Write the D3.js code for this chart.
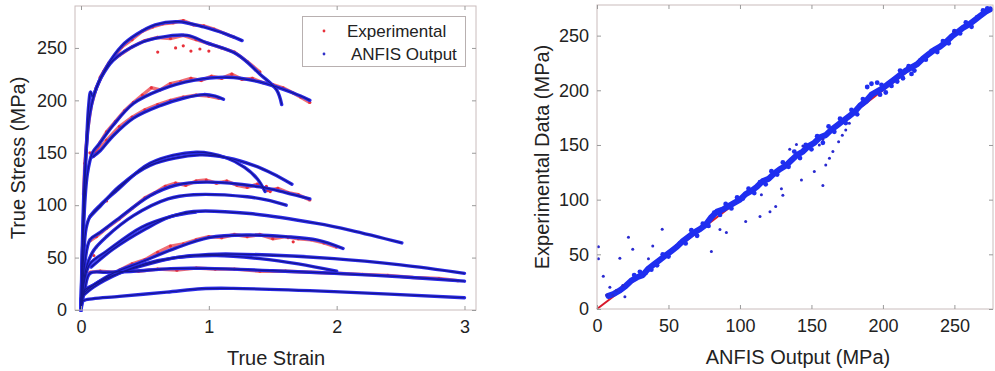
<!DOCTYPE html>
<html>
<head>
<meta charset="utf-8">
<script src="https://cdn.jsdelivr.net/npm/d3@7"></script>
<style>
  body { margin: 0; background: #fff; }
  svg { display: block; font-family: 'Liberation Sans', Arial, sans-serif; }
  .tick text { font-size: 18px; fill: #222; }
  .axis-title { font-size: 20px; fill: #222; }
</style>
</head>
<body>
<svg id="chart" width="995" height="371"></svg>
<script>
// ---- left panel: true stress vs true strain ----
const strainTicks = [0, 1, 2, 3];
const stressTicks = [0, 50, 100, 150, 200, 250];

// ANFIS output curves [strain, stress]
const anfisA = [[0,0],[0.01,60],[0.025,120],[0.045,160],[0.07,188],[0.12,212],[0.2,232],[0.32,252],[0.436,263],[0.58,272],[0.76,275],[0.96,270],[1.14,263],[1.26,257]];
const anfisB = [[0,0],[0.02,90],[0.04,150],[0.06,195],[0.075,208],[0.09,204],[0.15,220],[0.25,238],[0.45,254],[0.62,260],[0.83,262],[0.98,255],[1.22,244],[1.4,225],[1.53,210],[1.57,196]];
const anfisC = [[0,0],[0.02,80],[0.05,130],[0.09,150],[0.14,158],[0.25,176],[0.41,197],[0.62,210],[0.88,219],[1.14,222],[1.4,217.5],[1.66,207],[1.79,200]];
const anfisD = [[0.09,146],[0.15,152],[0.25,166],[0.41,183],[0.62,195],[0.8,202],[0.96,205.5],[1.05,204],[1.115,201]];
const anfisE = [[0,0],[0.02,50],[0.04,78],[0.07,89],[0.15,100],[0.28,114],[0.54,140],[0.9,150.5],[1.14,145],[1.28,136],[1.38,125],[1.44,113]];
const anfisF = [[0.07,89],[0.15,99],[0.3,118],[0.54,138],[0.93,148],[1.15,145],[1.35,138],[1.5,130],[1.65,120]];
const anfisG = [[0,0],[0.03,45],[0.07,67],[0.15,74],[0.28,86],[0.54,109],[0.74,119],[0.98,122],[1.4,117.4],[1.6,112],[1.79,106]];
const anfisH = [[0,0],[0.04,40],[0.1,57],[0.2,70],[0.41,90],[0.68,106],[0.88,110],[1.3,108],[1.45,105],[1.605,100]];
const anfisI = [[0,0],[0.03,30],[0.07,44],[0.2,56],[0.475,79],[0.74,90.5],[0.88,94],[1.32,92],[1.845,82.6],[2.11,76],[2.51,64]];
const anfisI2 = [[0.08,41],[0.25,58],[0.5,77],[0.7,89],[0.9,93.5]];
const anfisJ = [[0,0],[0.02,18],[0.1,24],[0.25,35],[0.475,46],[0.74,59],[1.0,69],[1.3,71.5],[1.6,70],[1.85,66.7],[2.05,58.7]];
const anfisK = [[0,0],[0.01,14],[0.1,24],[0.25,33],[0.475,42],[0.74,50],[1.0,53],[1.2,53.3],[1.98,49],[2.5,43],[3.0,35]];
const anfisL = [[0.01,13],[0.1,22],[0.3,35],[0.5,44],[0.74,50],[1.06,52],[1.4,49],[1.7,44],[2.0,37]];
const anfisM = [[0,0],[0.03,20],[0.07,35],[0.2,36],[0.41,37],[0.7,39.5],[0.98,39.7],[1.5,37.5],[1.98,35],[2.5,31.7],[3.0,27.5]];
const anfisN = [[0,0],[0.01,8],[0.03,9.5],[0.3,13],[0.67,17],[0.945,20.3],[1.19,20.6],[1.98,17.5],[3.0,11.7]];

// experimental curves [strain, stress]
const expA = [[0.02,110],[0.03,140],[0.05,170],[0.08,195],[0.12,212],[0.18,228],[0.25,240],[0.32,251],[0.4,258],[0.48,266],[0.56,270],[0.64,273],[0.72,274],[0.8,276],[0.88,272],[0.96,271],[1.04,268],[1.12,264],[1.2,260]];
const expB = [[0.15,222],[0.22,236],[0.3,243],[0.4,251],[0.5,257],[0.6,260],[0.7,259],[0.8,262],[0.9,258],[1.0,254],[1.1,250],[1.2,246],[1.3,237],[1.4,227]];
const expC = [[0.07,150],[0.1,147],[0.15,160],[0.2,170],[0.27,180],[0.34,190],[0.41,198],[0.48,205],[0.55,212],[0.62,210],[0.7,216],[0.78,218],[0.86,221],[0.94,219],[1.02,223],[1.1,221],[1.18,225],[1.26,220],[1.34,221],[1.42,217],[1.5,215],[1.58,212],[1.66,207],[1.72,203],[1.79,198]];
const expD = [[0.12,150],[0.2,162],[0.3,175],[0.4,184],[0.5,191],[0.6,196],[0.7,200],[0.8,203],[0.9,205],[1.0,204],[1.08,202]];
const expG = [[0.07,66],[0.12,70],[0.2,78],[0.3,87],[0.4,97],[0.5,107],[0.58,112],[0.66,118],[0.74,121],[0.82,119],[0.9,123],[0.98,124],[1.06,121],[1.14,123],[1.22,119],[1.3,117],[1.38,120],[1.46,114],[1.54,116],[1.62,112],[1.7,110],[1.79,105]];
const expJ = [[0.3,38],[0.4,44],[0.5,48],[0.6,55],[0.7,61],[0.8,63],[0.9,67],[1.0,70],[1.1,69],[1.2,72],[1.3,70],[1.4,72],[1.5,68],[1.6,70],[1.7,68],[1.8,67],[1.9,64],[2.0,60]];
const expM = [[0.07,36],[0.15,37],[0.25,36],[0.35,38],[0.45,37],[0.6,39],[0.75,38],[0.9,40],[1.05,39],[1.2,39],[1.4,37],[1.6,37],[1.8,36],[2.0,35],[2.2,34],[2.4,33],[2.6,31],[2.8,30],[2.95,28]];
const expStray = [[0.74,250],[0.8,252],[0.86,247],[0.93,249],[1.0,247],[0.6,246],[1.45,118],[1.48,113],[1.62,69],[1.66,65],[0.2,104],[0.12,60],[0.1,52]];

// ---- right panel: experimental vs ANFIS ----
const anfisTicks = [0, 50, 100, 150, 200, 250];
const fitLine = [[0, 0], [275, 275]];
// [anfis, experimental] pairs of the dense band
const bandPairs = [[8,12],[12,14],[16,17],[20,21],[24,26],[28,29],[32,31],[36,37],[40,41],[44,45],[48,49],[52,53],[56,57],[60,62],[64,66],[68,70],[72,73],[76,77],[80,84],[84,89],[88,91],[92,94],[96,97],[100,100],[104,105],[108,108],[112,112],[116,117],[120,119],[124,124],[128,128],[132,131],[136,136],[140,141],[144,144],[148,149],[152,152],[156,157],[160,159],[164,164],[168,168],[172,172],[176,176],[180,180],[184,186],[188,190],[192,196],[196,199],[200,202],[204,206],[208,210],[212,214],[216,218],[220,221],[224,224],[228,229],[232,233],[236,237],[240,240],[244,244],[248,249],[252,253],[256,257],[260,260],[264,264],[268,268],[272,272],[275,274]];
const bandExtra = [[26,31],[30,34],[34,33],[38,36],[42,40],[46,50],[50,48],[58,60],[62,60],[66,72],[70,67],[74,78],[78,76],[82,88],[86,86],[90,96],[94,92],[98,102],[102,101],[106,110],[110,106],[114,116],[118,114],[122,126],[126,123],[130,134],[134,130],[138,144],[142,138],[146,150],[150,146],[154,158],[158,152],[162,167],[166,162],[170,174],[174,170],[178,182],[182,178],[186,192],[189,203],[192,206],[196,207],[199,205],[198,196],[202,198],[206,204],[210,208],[214,211],[212,218],[218,222],[222,218],[220,215],[226,227],[230,228],[234,236],[238,235],[242,245],[246,243],[250,254],[254,252],[258,262],[262,258],[266,267],[270,273],[273,275]];
const outlierPairs = [[1,57],[1,46],[4.4,30],[22,65.6],[25,54.6],[16,46.4],[39,57.6],[45.6,73],[36,46],[6.7,12.8],[11,12.8],[9,20],[13.5,17],[18,21.5],[19.5,11.3],[80,52.5],[90.5,70],[86,72.6],[104,80],[114,84.5],[121,89],[125,93.7],[115,104.4],[129,110],[130,104],[143,118],[152,125.7],[158,113],[160,131.7],[162.6,137.9],[165,144],[169,153],[171.6,159],[174,163.6],[176.5,169.9],[158,155],[155.5,150],[134.8,146],[139.5,150.5],[144,149],[250,253.8]];

const svg = d3.select('#chart');
const boxColor = '#c9bcbc';
const lineBlue = '#2a2ae6';
const lineCore = '#161690';
const expRed = '#e8303a';
const dotBlue = '#1f2ef0';

function drawFrame(g, x, y, xTicks, yTicks) {
    const [x0, x1] = x.range();
    const [y0, y1] = y.range();
    g.append('rect')
        .attr('x', x0).attr('y', y1)
        .attr('width', x1 - x0).attr('height', y0 - y1)
        .attr('fill', 'none').attr('stroke', boxColor).attr('stroke-width', 1);

    const fmt = d3.format('d');
    const styleAxis = sel => {
        sel.select('.domain').remove();
        sel.selectAll('.tick line').attr('stroke', '#9a9a9a');
    };
    g.append('g').attr('transform', `translate(0,${y0})`)
        .call(d3.axisBottom(x).tickValues(xTicks).tickFormat(fmt).tickSizeInner(-4).tickSizeOuter(0).tickPadding(10))
        .call(styleAxis);
    g.append('g').attr('transform', `translate(0,${y1})`)
        .call(d3.axisTop(x).tickValues(xTicks).tickSizeInner(-4).tickSizeOuter(0).tickFormat(''))
        .call(styleAxis);
    g.append('g').attr('transform', `translate(${x0},0)`)
        .call(d3.axisLeft(y).tickValues(yTicks).tickFormat(fmt).tickSizeInner(-4).tickSizeOuter(0).tickPadding(8))
        .call(styleAxis);
    g.append('g').attr('transform', `translate(${x1},0)`)
        .call(d3.axisRight(y).tickValues(yTicks).tickSizeInner(-4).tickSizeOuter(0).tickFormat(''))
        .call(styleAxis);
    g.selectAll('.tick text').attr('font-family', null).attr('font-size', null);
}

// ---------- left panel ----------
const xL = d3.scaleLinear().domain([-0.047, 3.09]).range([75, 476]);
const yL = d3.scaleLinear().domain([0, 290]).range([310, 6]);
const gL = svg.append('g');

const lineL = d3.line().x(d => xL(d[0])).y(d => yL(d[1])).curve(d3.curveCatmullRom.alpha(0.5));
const expLine = d3.line().x(d => xL(d[0])).y(d => yL(d[1])).curve(d3.curveLinear);

const expCurves = [expA, expB, expC, expD, expG, expJ, expM];
const anfisCurves = [anfisA, anfisB, anfisC, anfisD, anfisE, anfisF, anfisG, anfisH, anfisI, anfisI2, anfisJ, anfisK, anfisL, anfisM, anfisN];

const plotL = gL.append('g');
plotL.selectAll('path.exp')
    .data(expCurves)
    .enter()
    .append('path')
        .attr('class', 'exp')
        .attr('d', expLine)
        .attr('fill', 'none')
        .attr('stroke', expRed)
        .attr('stroke-width', 3.4)
        .attr('stroke-linejoin', 'round')
        .attr('opacity', 0.7);

plotL.selectAll('circle.exp-pt')
    .data(expCurves.flat().concat(expStray))
    .enter()
    .append('circle')
        .attr('class', 'exp-pt')
        .attr('cx', d => xL(d[0]))
        .attr('cy', d => yL(d[1]))
        .attr('r', 1.6)
        .attr('fill', expRed);

plotL.selectAll('path.anfis')
    .data(anfisCurves)
    .enter()
    .append('path')
        .attr('class', 'anfis')
        .attr('d', lineL)
        .attr('fill', 'none')
        .attr('stroke', lineBlue)
        .attr('stroke-width', 3.4)
        .attr('stroke-linecap', 'round');

plotL.selectAll('path.anfis-core')
    .data(anfisCurves)
    .enter()
    .append('path')
        .attr('class', 'anfis-core')
        .attr('d', lineL)
        .attr('fill', 'none')
        .attr('stroke', lineCore)
        .attr('stroke-width', 1.2);

drawFrame(gL, xL, yL, strainTicks, stressTicks);

gL.append('text')
    .attr('class', 'axis-title')
    .attr('x', 276).attr('y', 365)
    .attr('text-anchor', 'middle')
    .text('True Strain');
gL.append('text')
    .attr('class', 'axis-title')
    .attr('transform', 'translate(25,158) rotate(-90)')
    .attr('text-anchor', 'middle')
    .text('True Stress (MPa)');

// legend
const legend = gL.append('g');
legend.append('rect')
    .attr('x', 302.5).attr('y', 16.5)
    .attr('width', 163).attr('height', 50)
    .attr('fill', '#fff').attr('stroke', '#b8b0b0');
const legendItems = [
    { label: 'Experimental', color: expRed, y: 31, tx: 347 },
    { label: 'ANFIS Output', color: '#3030c8', y: 54, tx: 351 }
];
legend.selectAll('circle')
    .data(legendItems)
    .enter()
    .append('circle')
        .attr('cx', 324)
        .attr('cy', d => d.y)
        .attr('r', 1.4)
        .attr('fill', d => d.color);
legend.selectAll('text')
    .data(legendItems)
    .enter()
    .append('text')
        .attr('x', d => d.tx)
        .attr('y', d => d.y)
        .attr('dy', '0.35em')
        .style('font-size', '17px')
        .attr('fill', '#222')
        .text(d => d.label);

// ---------- right panel ----------
const xR = d3.scaleLinear().domain([0, 277]).range([597, 993]);
const yR = d3.scaleLinear().domain([0, 278]).range([309, 5]);
const gR = svg.append('g');
const plotR = gR.append('g');

const lineR = d3.line().x(d => xR(d[0])).y(d => yR(d[1]));
plotR.append('path')
    .datum(fitLine)
    .attr('d', lineR)
    .attr('stroke', '#d8182a')
    .attr('stroke-width', 2)
    .attr('fill', 'none');

plotR.append('path')
    .datum(bandPairs)
    .attr('d', lineR)
    .attr('stroke', dotBlue)
    .attr('stroke-width', 6)
    .attr('stroke-linejoin', 'round')
    .attr('stroke-linecap', 'round')
    .attr('fill', 'none');

plotR.selectAll('circle.band')
    .data(bandPairs.concat(bandExtra))
    .enter()
    .append('circle')
        .attr('class', 'band')
        .attr('cx', d => xR(d[0]))
        .attr('cy', d => yR(d[1]))
        .attr('r', 2.4)
        .attr('fill', dotBlue);

plotR.selectAll('circle.outlier')
    .data(outlierPairs)
    .enter()
    .append('circle')
        .attr('class', 'outlier')
        .attr('cx', d => xR(d[0]))
        .attr('cy', d => yR(d[1]))
        .attr('r', 1.5)
        .attr('fill', '#2a2ad0');

drawFrame(gR, xR, yR, anfisTicks, anfisTicks);

gR.append('text')
    .attr('class', 'axis-title')
    .attr('x', 798).attr('y', 364)
    .attr('text-anchor', 'middle')
    .text('ANFIS Output (MPa)');
gR.append('text')
    .attr('class', 'axis-title')
    .attr('transform', 'translate(549,157) rotate(-90)')
    .attr('text-anchor', 'middle')
    .text('Experimental Data (MPa)');
</script>
</body>
</html>
